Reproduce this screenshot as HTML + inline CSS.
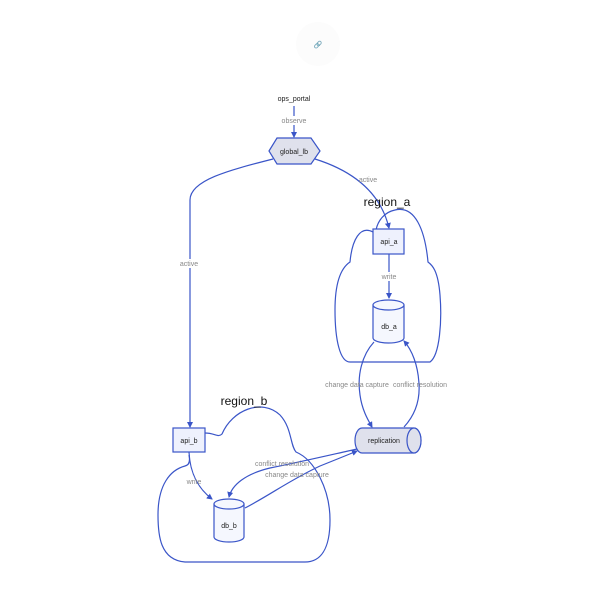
<!DOCTYPE html>
<html><head><meta charset="utf-8"><style>
body{margin:0;background:#fff}
svg{display:block;font-family:"Liberation Sans","DejaVu Sans",sans-serif}
.l{font-size:7px;fill:#888;text-anchor:middle}
.n{font-size:7px;fill:#222;text-anchor:middle}
</style></head><body>
<svg width="600" height="600" viewBox="0 0 600 600">
<defs><marker id="a" markerWidth="6" markerHeight="6" refX="5" refY="3" orient="auto" markerUnits="userSpaceOnUse"><path d="M0,0L6,3L0,6z" fill="#3a55c8"/></marker></defs>
<circle cx="318" cy="44" r="22" fill="#fcfcfc"/>
<text x="318" y="47" font-size="7" fill="#666" text-anchor="middle">🔗</text>
<g fill="none" stroke="#3a55c8" stroke-width="1.2">
<path d="M373,232 C360,225 352,240 350,262 C338,270 335,290 335,310 C335,340 340,362 350,362 L430,362 C440,355 442,320 440,295 C438,270 432,265 428,262 C425,230 415,205 395,210 C385,212 378,220 376,230"/>
<path d="M205,433 C215,433 218,438 222,434 C232,410 262,398 280,415 C292,428 290,445 296,452 C315,460 330,490 330,520 C330,550 320,562 305,562 L185,562 C160,560 158,535 158,515 C158,485 170,470 185,466 C190,465 190,460 189,455"/>
<path d="M294,106 L294,137" marker-end="url(#a)"/>
<path d="M273,159 C230,170 190,180 190,200 L190,427" marker-end="url(#a)"/>
<path d="M315,159 C350,170 380,190 389,228" marker-end="url(#a)"/>
<path d="M389,254 L389,298" marker-end="url(#a)"/>
<path d="M374,342 C362,355 357,375 360,395 C362,410 368,420 372,427" marker-end="url(#a)"/>
<path d="M404,427 C415,415 420,400 419,384 C418,365 412,350 404,341" marker-end="url(#a)"/>
<path d="M189,452 C190,475 200,490 212,499" marker-end="url(#a)"/>
<path d="M357,449 C330,455 300,462 270,468 C245,474 232,485 229,497" marker-end="url(#a)"/>
<path d="M245,508 C270,495 290,480 320,466 C335,460 345,456 357,451" marker-end="url(#a)"/>
</g>
<text class="n" x="294" y="101">ops_portal</text>
<polygon points="269,151 277,138 311,138 320,151 311,164 277,164" fill="#dfe1ec" stroke="#3a55c8" stroke-width="1.2"/>
<text class="n" x="294" y="154">global_lb</text>
<text x="387" y="206" font-size="12" fill="#111" text-anchor="middle">region_a</text>
<rect x="373" y="229" width="31" height="25" fill="#eef1fd" stroke="#3a55c8" stroke-width="1.2"/>
<text class="n" x="389" y="244">api_a</text>
<g fill="#f5f7fe" stroke="#3a55c8" stroke-width="1.2">
<path d="M373,305 L373,338 A15.5,5 0 0 0 404,338 L404,305"/><ellipse cx="388.5" cy="305" rx="15.5" ry="5"/>
<path d="M214,504 L214,537 A15,5 0 0 0 244,537 L244,504"/><ellipse cx="229" cy="504" rx="15" ry="5"/>
</g>
<text class="n" x="389" y="329">db_a</text>
<text class="n" x="229" y="528">db_b</text>
<g fill="#dfe1ec" stroke="#3a55c8" stroke-width="1.2">
<path d="M362,428 L414,428 A7,12.5 0 0 1 414,453 L362,453 A7,12.5 0 0 1 362,428z"/>
<ellipse cx="414" cy="440.5" rx="7" ry="12.5"/>
</g>
<text class="n" x="384" y="443">replication</text>
<rect x="173" y="428" width="32" height="24" fill="#eef1fd" stroke="#3a55c8" stroke-width="1.2"/>
<text class="n" x="189" y="443">api_b</text>
<text x="244" y="405" font-size="12" fill="#111" text-anchor="middle">region_b</text>
<g class="l">
<rect x="280" y="116" width="28" height="9" fill="#fff"/>
<text class="l" x="294" y="123">observe</text>
<text class="l" x="368" y="182">active</text>
<rect x="178" y="259" width="22" height="9" fill="#fff"/>
<text class="l" x="189" y="266">active</text>
<rect x="380" y="272" width="18" height="9" fill="#fff"/>
<text class="l" x="389" y="279">write</text>
<text class="l" x="357" y="387">change data capture</text>
<text class="l" x="420" y="387">conflict resolution</text>
<text class="l" x="194" y="484">write</text>
<text class="l" x="282" y="466">conflict resolution</text>
<text class="l" x="297" y="477">change data capture</text>
</g>
</svg>
</body></html>
